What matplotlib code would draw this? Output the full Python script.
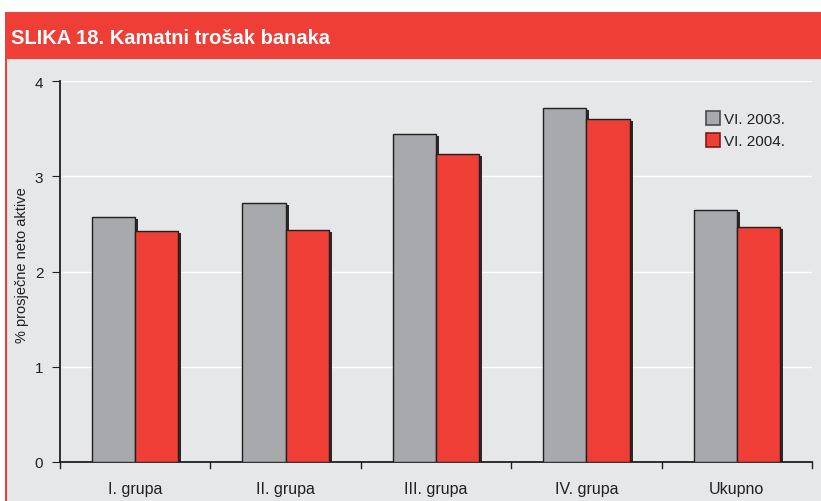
import matplotlib
matplotlib.use("Agg")
import matplotlib.pyplot as plt
import matplotlib.patheffects as pe
from matplotlib.patches import Rectangle, Patch
import numpy as np

categories = ["I. grupa", "II. grupa", "III. grupa", "IV. grupa", "Ukupno"]
series_labels = ["VI. 2003.", "VI. 2004."]
values_2003 = [2.57, 2.72, 3.44, 3.72, 2.65]
values_2004 = [2.43, 2.44, 3.23, 3.60, 2.47]
y_ticks = [0, 1, 2, 3, 4]

RED = "#ef3e36"
GREY_BAR = "#a7a9ac"
PANEL = "#e6e7e8"
INK = "#231f20"

plt.rcParams["font.family"] = ["Liberation Sans", "DejaVu Sans"]

fig = plt.figure(figsize=(8.21, 5.02), dpi=100)
W, H = 821, 502

# panel background, header band and left border (behind the axes)
fig.patches.append(Rectangle((5 / W, 0), 1 - 5 / W, (H - 60) / H,
                             transform=fig.transFigure, facecolor=PANEL,
                             edgecolor="none", zorder=-10))
fig.patches.append(Rectangle((5 / W, (H - 60) / H), 1 - 5 / W, 47 / H,
                             transform=fig.transFigure, facecolor=RED,
                             edgecolor="none", zorder=-10))
fig.patches.append(Rectangle((5 / W, 0), 2 / W, (H - 13) / H,
                             transform=fig.transFigure, facecolor=RED,
                             edgecolor="none", zorder=-9))
fig.text(11 / W, (H - 38) / H, "SLIKA 18. Kamatni trošak banaka",
         color="white", fontsize=14.5, fontweight="bold", va="center")

ax = fig.add_axes([60 / W, (H - 463) / H, (812 - 60) / W, (463 - 82) / H])
ax.patch.set_alpha(0)

x = np.arange(len(categories))
width = 0.287
shadow = [pe.SimplePatchShadow(offset=(2.2, -1.5), shadow_rgbFace=INK, alpha=0.95),
          pe.Normal()]
b1 = ax.bar(x - width / 2, values_2003, width, color=GREY_BAR, edgecolor=INK,
            linewidth=1.0, zorder=3, label=series_labels[0])
b2 = ax.bar(x + width / 2, values_2004, width, color=RED, edgecolor=INK,
            linewidth=1.0, zorder=3, label=series_labels[1])
for bar in list(b1) + list(b2):
    bar.set_path_effects(shadow)

ax.set_xlim(-0.5, len(categories) - 0.5)
ax.set_ylim(0, 4)
ax.set_yticks(y_ticks)
ax.set_yticklabels([str(t) for t in y_ticks])
ax.yaxis.grid(True, color="white", linewidth=1.0, zorder=0)
ax.set_axisbelow(True)

ax.set_xticks(x)
ax.set_xticklabels(categories)
ax.tick_params(axis="x", length=0, pad=14, labelsize=11.5, labelcolor=INK)
ax.tick_params(axis="y", length=6, direction="out", labelsize=11,
               labelcolor=INK, color=INK, pad=6)

for side in ["top", "right"]:
    ax.spines[side].set_visible(False)
for side in ["left", "bottom"]:
    ax.spines[side].set_linewidth(1.3)
    ax.spines[side].set_color(INK)

# small tick marks at category boundaries, pointing down
for bx in np.arange(len(categories) + 1) - 0.5:
    ax.plot([bx, bx], [0, -0.06], color=INK, linewidth=1.0, clip_on=False, zorder=4)

ax.set_ylabel("% prosječne neto aktive", fontsize=10.5, color=INK)
ax.yaxis.set_label_coords((29 - 60) / (812 - 60), 0.52)

handles = [Patch(facecolor=GREY_BAR, edgecolor="#4d4d4f", linewidth=1.2),
           Patch(facecolor=RED, edgecolor="#7a1f1a", linewidth=1.2)]
leg = ax.legend(handles, series_labels, loc="upper left",
                bbox_to_anchor=((700 - 60) / (812 - 60), 1 - (106 - 82) / (463 - 82)),
                frameon=False, fontsize=11, handlelength=0.9, handleheight=1.0,
                handletextpad=0.3, labelspacing=0.45, borderaxespad=0)
for t in leg.get_texts():
    t.set_color(INK)

fig.savefig("out.png", dpi=100, facecolor="white")
